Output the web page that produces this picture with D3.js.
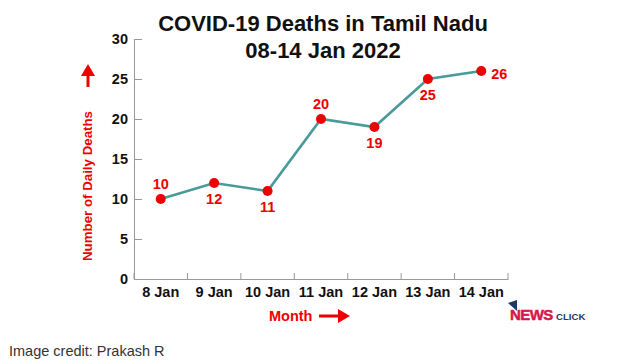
<!DOCTYPE html>
<html><head><meta charset="utf-8">
<script src="https://cdn.jsdelivr.net/npm/d3@7"></script>
<style>body{margin:0;background:#fff}svg{display:block}</style>
</head><body>
<svg id="c" width="619" height="364"></svg>
<script>
const categories = ["8 Jan","9 Jan","10 Jan","11 Jan","12 Jan","13 Jan","14 Jan"];
const deaths = [10,12,11,20,19,25,26];
const yTicks = [0,5,10,15,20,25,30];
const labelPos = ["above","below","below","above","below","below","right"];
const titleLines = ["COVID-19 Deaths in Tamil Nadu","08-14 Jan 2022"];

const svg = d3.select("#c");
const font = "'Liberation Sans', Arial, sans-serif";
const red = "#ee0000";
const m = {l:134, r:508, t:39, b:279};

const x = d3.scaleBand().domain(categories).range([m.l, m.r]).padding(0);
const y = d3.scaleLinear().domain([0,30]).range([m.b, m.t]);

// title
svg.append("text").attr("font-family",font).attr("font-weight","bold")
  .attr("font-size",22).attr("text-anchor","middle").attr("fill","#111")
  .selectAll("tspan").data(titleLines).join("tspan")
  .attr("x",323).attr("y",(d,i)=>31+i*27).text(d=>d);

// y axis
const ya = svg.append("g").attr("transform",`translate(${m.l},0)`)
  .call(d3.axisLeft(y).tickValues(yTicks).tickSizeInner(-8).tickSizeOuter(0).tickPadding(6));
ya.select(".domain").attr("stroke","#999");
ya.selectAll(".tick line").attr("stroke","#999");
ya.selectAll(".tick text").attr("font-family",font).attr("font-weight","bold").attr("font-size",14.5).attr("fill","#111");

// x axis
const xa = svg.append("g").attr("transform",`translate(0,${m.b})`)
  .call(d3.axisBottom(x).tickSizeInner(0).tickSizeOuter(0).tickPadding(8));
xa.select(".domain").attr("stroke","#999");
xa.selectAll(".tick text").attr("font-family",font).attr("font-weight","bold").attr("font-size",14.5).attr("fill","#111");
// boundary ticks
const bounds = categories.map(c=>x(c)).concat([m.r]);
svg.append("g").selectAll("line").data(bounds).join("line")
  .attr("x1",d=>d).attr("x2",d=>d).attr("y1",m.b).attr("y2",m.b-6)
  .attr("stroke","#999");

// line
const line = d3.line().x((d,i)=>x(categories[i])+x.bandwidth()/2).y(d=>y(d));
svg.append("path").datum(deaths).attr("d",line).attr("fill","none")
  .attr("stroke","#4a9a9a").attr("stroke-width",2.6);

svg.append("g").selectAll("circle").data(deaths).join("circle")
  .attr("cx",(d,i)=>x(categories[i])+x.bandwidth()/2).attr("cy",d=>y(d))
  .attr("r",5).attr("fill",red);

svg.append("g").selectAll("text").data(deaths).join("text")
  .attr("font-family",font).attr("font-weight","bold").attr("font-size",14.5).attr("fill",red)
  .attr("text-anchor",(d,i)=>labelPos[i]==="right"?"start":"middle")
  .attr("x",(d,i)=>{const cx=x(categories[i])+x.bandwidth()/2; return labelPos[i]==="right"?cx+10:cx;})
  .attr("y",(d,i)=>{const cy=y(d); return labelPos[i]==="above"?cy-10:labelPos[i]==="below"?cy+21:cy+8;})
  .text(d=>d);

// y title with arrow
svg.append("text").attr("transform","translate(92,186) rotate(-90)")
  .attr("text-anchor","middle").attr("font-family",font).attr("font-weight","bold")
  .attr("font-size",13.3).attr("fill",red).text("Number of Daily Deaths");
svg.append("line").attr("x1",88).attr("x2",88).attr("y1",87).attr("y2",74)
  .attr("stroke",red).attr("stroke-width",3);
svg.append("path").attr("d","M81,76 L88,64 L95,76 Z").attr("fill",red);

// x title with arrow
svg.append("text").attr("x",269).attr("y",321).attr("font-family",font).attr("font-weight","bold")
  .attr("font-size",14.5).attr("fill",red).text("Month");
svg.append("line").attr("x1",319).attr("x2",340).attr("y1",316).attr("y2",316)
  .attr("stroke",red).attr("stroke-width",3);
svg.append("path").attr("d","M338,309 L350,316 L338,323 Z").attr("fill",red);

// logo
svg.append("path").attr("d","M508,303 L517,300 L517,311 Z").attr("fill","#1f3a5f");
svg.append("text").attr("x",510).attr("y",320).attr("font-family",font).attr("font-weight","bold")
  .attr("font-size",15).attr("fill","#d6174b").attr("stroke","#d6174b").attr("stroke-width",0.5)
  .attr("letter-spacing",-0.6).text("NEWS");
svg.append("text").attr("x",556).attr("y",320).attr("font-family",font).attr("font-weight","bold")
  .attr("font-size",9.6).attr("fill","#1f3a5f").text("CLICK");

// credit
svg.append("text").attr("x",9).attr("y",356).attr("font-family",font)
  .attr("font-size",14.5).attr("fill","#333").text("Image credit: Prakash R");
</script>
</body></html>
